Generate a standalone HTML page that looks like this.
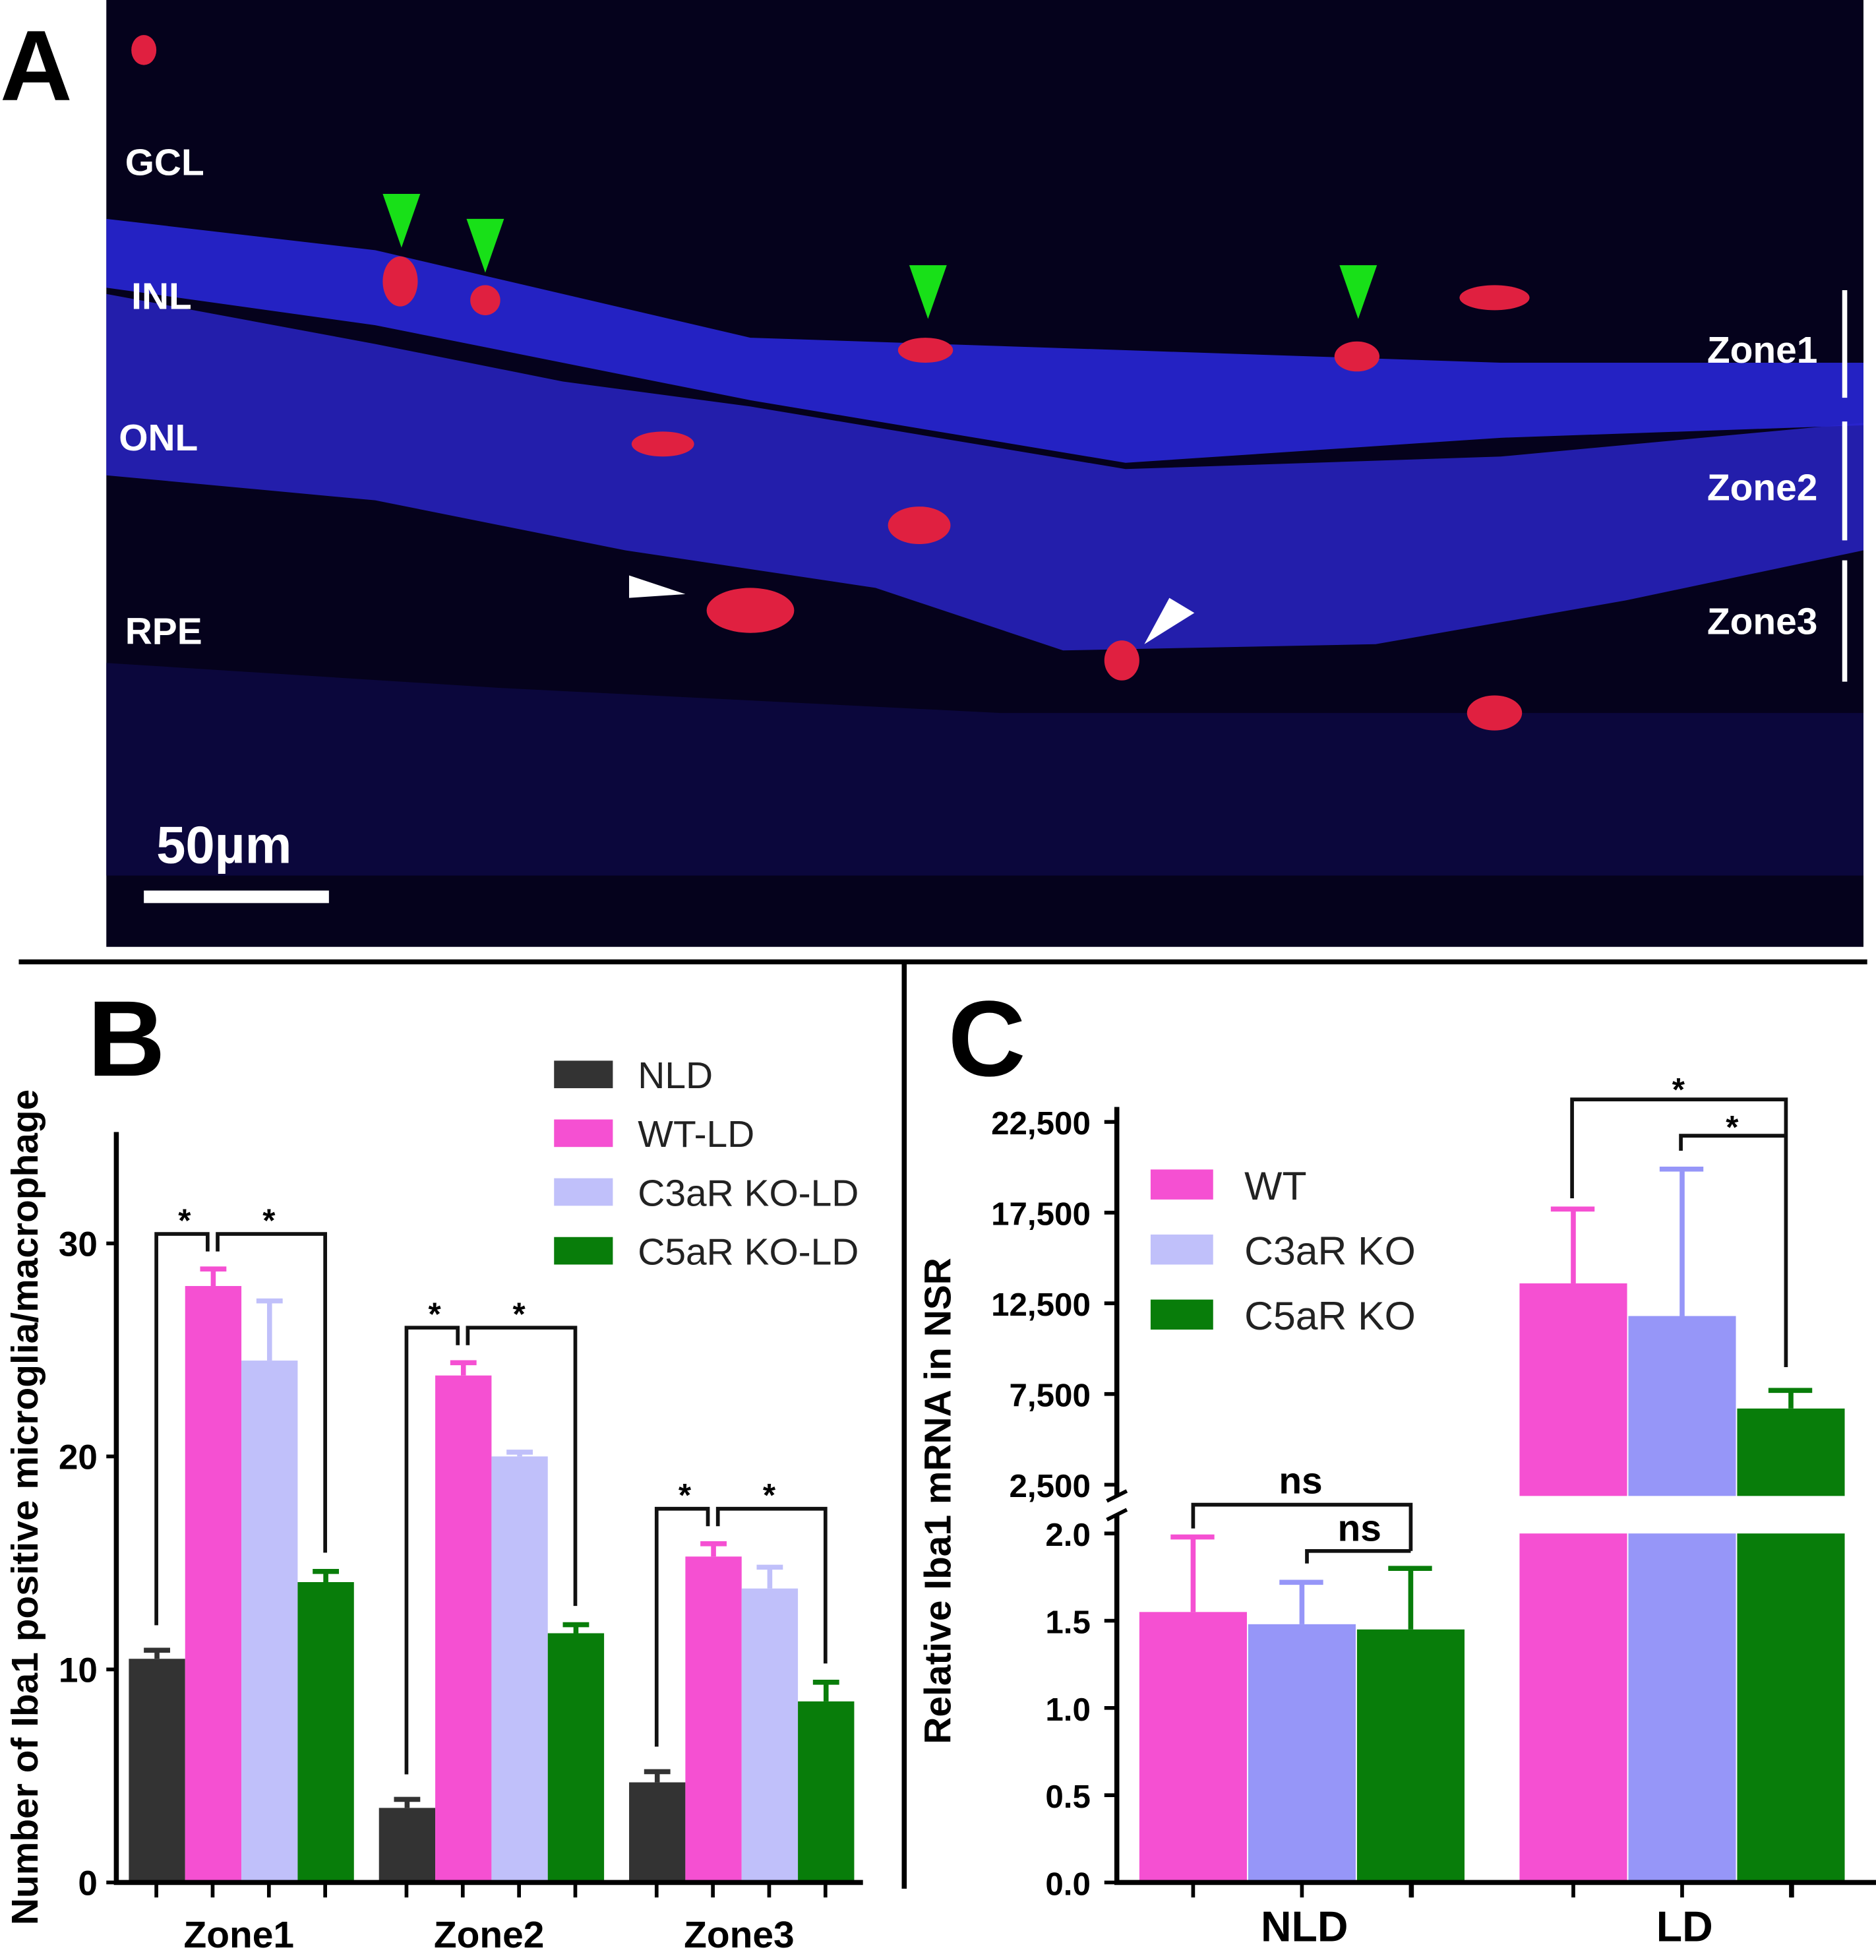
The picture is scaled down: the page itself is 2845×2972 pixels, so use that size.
<!DOCTYPE html>
<html><head><meta charset="utf-8"><style>
html,body{margin:0;padding:0;background:#fff}
svg{display:block}
text{font-family:"Liberation Sans",sans-serif}
</style></head><body>
<svg id="fig" width="2845" height="2972" viewBox="0 0 1500 1567" xmlns="http://www.w3.org/2000/svg">
<g>
<rect x="85" y="0" width="1405" height="757" fill="#05021c"/>
<polygon points="85,175 300,200 600,270 900,280 1200,290 1490,290 1490,340 1200,350 900,370 600,320 300,260 85,230" fill="#2a28e0" opacity="0.85"/>
<polygon points="85,235 300,275 450,305 600,325 900,375 1200,365 1490,338 1490,440 1300,480 1100,515 850,520 700,470 500,440 300,400 85,380" fill="#2a26d0" opacity="0.8"/>
<polygon points="85,530 400,550 800,570 1200,570 1490,570 1490,700 85,700" fill="#0c0840" opacity="0.9"/>
<text x="0" y="80" font-size="80" font-weight="bold" fill="#000">A</text>
<g fill="#fff" font-size="30" font-weight="bold">
<text x="100" y="140">GCL</text>
<text x="105" y="247">INL</text>
<text x="95" y="360">ONL</text>
<text x="100" y="515">RPE</text>
<text x="1365" y="290">Zone1</text>
<text x="1365" y="400">Zone2</text>
<text x="1365" y="507">Zone3</text>
<text x="125" y="690" font-size="42">50µm</text>
</g>
<rect x="115" y="712" width="148" height="10" fill="#fff"/>
<g stroke="#fff" stroke-width="4"><line x1="1475" y1="232" x2="1475" y2="318"/><line x1="1475" y1="337" x2="1475" y2="432"/><line x1="1475" y1="448" x2="1475" y2="545"/></g>
<g fill="#e02040">
<ellipse cx="320" cy="225" rx="14" ry="20"/><ellipse cx="388" cy="240" rx="12" ry="12"/><ellipse cx="740" cy="280" rx="22" ry="10"/><ellipse cx="1085" cy="285" rx="18" ry="12"/><ellipse cx="1195" cy="238" rx="28" ry="10"/><ellipse cx="600" cy="488" rx="35" ry="18"/><ellipse cx="897" cy="528" rx="14" ry="16"/><ellipse cx="1195" cy="570" rx="22" ry="14"/><ellipse cx="115" cy="40" rx="10" ry="12"/><ellipse cx="735" cy="420" rx="25" ry="15"/><ellipse cx="530" cy="355" rx="25" ry="10"/>
</g>
<g fill="#18e018">
<polygon points="306,155 336,155 321,198"/><polygon points="373,175 403,175 388,218"/><polygon points="727,212 757,212 742,255"/><polygon points="1071,212 1101,212 1086,255"/>
</g>
<g fill="#fff">
<polygon points="503,460 548,475 503,478"/><polygon points="955,490 915,515 935,478"/>
</g>
</g>
<line x1="15" y1="769" x2="1493" y2="769" stroke="#000" stroke-width="4"/>
<line x1="723" y1="770" x2="723" y2="1510" stroke="#000" stroke-width="4"/>
<text x="70" y="860" font-size="86" font-weight="bold">B</text>
<text x="758" y="860" font-size="86" font-weight="bold">C</text>
<g id="chartB"></g>
<g id="chartC"></g>
</svg>
<script>
const zones=["Zone1","Zone2","Zone3"];
const seriesB=["NLD","WT-LD","C3aR KO-LD","C5aR KO-LD"];
const nld=[10.5,3.5,4.7];
const wtld=[28.0,23.8,15.3];
const c3ld=[24.5,20.0,13.8];
const c5ld=[14.1,11.7,8.5];
const nldErr=[0.4,0.4,0.5];
const wtErr=[0.8,0.6,0.6];
const c3Err=[2.8,0.2,1.0];
const c5Err=[0.5,0.4,0.9];
const ticksB=[0,10,20,30];
const groupsC=["NLD","LD"];
const seriesC=["WT","C3aR KO","C5aR KO"];
const wtC=[1.55,13600];
const c3C=[1.48,11800];
const c5C=[1.45,6700];
const wtCErr=[0.43,4100];
const c3CErr=[0.24,8100];
const c5CErr=[0.35,1000];
const ticksCLow=[0.0,0.5,1.0,1.5,2.0];
const ticksCHigh=[2500,7500,12500,17500,22500];
const NS="http://www.w3.org/2000/svg";
function mk(parent,tag,attrs){const e=document.createElementNS(NS,tag);for(const k in attrs)e.setAttribute(k,attrs[k]);parent.appendChild(e);return e;}
// Chart B
const B=document.getElementById('chartB');
const yB=v=>1505-v*17.03;
const colsB=["#333333","#f550d2","#c0c0fa","#087d0a"];
const valsB=[nld,wtld,c3ld,c5ld], errsB=[nldErr,wtErr,c3Err,c5Err];
const gx=i=>103+i*200;
zones.forEach((z,i)=>{
  valsB.forEach((arr,s)=>{
    const x=gx(i)+s*45;
    const r=mk(B,'rect',{x:x,y:yB(arr[i]),width:45,height:yB(0)-yB(arr[i]),fill:colsB[s]});
    
    
    const t=yB(arr[i]+errsB[s][i]);
    const eg=mk(B,'path',{d:`M${x+22.5},${yB(arr[i])}V${t}M${x+12},${t}H${x+33}`,stroke:colsB[s],'stroke-width':4,fill:'none'});
    
    
  });
  const l=mk(B,'text',{x:gx(i)+88,y:1557,'font-size':30,'font-weight':'bold','text-anchor':'middle'});l.textContent=z;
  
  
  const xn=gx(i)+22,xw=gx(i)+67,xc=gx(i)+157;
  const top=yB(wtld[i]+wtErr[i])-28;
  const br=mk(B,'path',{d:`M${xn},${yB(nld[i]+nldErr[i])-20}V${top}H${xw-4}V${top+14}M${xw+4},${top+14}V${top}H${xc}V${yB(c5ld[i]+c5Err[i])-15}`,stroke:'#111','stroke-width':3,fill:'none'});
  
  
  [(xn+xw)/2,(xw+xc)/2].forEach(sx=>{const st=mk(B,'text',{x:sx,y:top-2,'font-size':26,'font-weight':'bold','text-anchor':'middle'});st.textContent='*';
  
  });
  [0,1,2,3].forEach(k=>mk(B,'line',{x1:gx(i)+22+k*45,x2:gx(i)+22+k*45,y1:1505,y2:1517,stroke:'#000','stroke-width':3}));
});
mk(B,'path',{d:'M93,905V1505H690',stroke:'#000','stroke-width':4,fill:'none'});
ticksB.forEach(t=>{mk(B,'line',{x1:85,x2:93,y1:yB(t),y2:yB(t),stroke:'#000','stroke-width':3});
  const tl=mk(B,'text',{x:78,y:yB(t)+10,'font-size':28,'font-weight':'bold','text-anchor':'end'});tl.textContent=t;
  
  });
const yt=mk(B,'text',{x:0,y:0,'font-size':30,'font-weight':'bold','text-anchor':'middle',transform:'translate(30,1205) rotate(-90)'});yt.textContent='Number of Iba1 positive microglia/macrophage';


seriesB.forEach((s,k)=>{const y=860+k*47;
  const sw=mk(B,'rect',{x:443,y:y-12,width:47,height:22,fill:colsB[k]});
  
  
  const t=mk(B,'text',{x:510,y:y+10,'font-size':30,fill:'#222'});t.textContent=s;
  
  });
// Chart C
const C=document.getElementById('chartC');
const yLow=v=>1505-v*139.5;
const yHigh=v=>1187-(v-2500)*72.5/5000;
const yC=v=>v<=2?yLow(v):yHigh(v);
const colsC=["#f550d2","#9696f8","#087d0a"];
const valsC=[wtC,c3C,c5C], errsC=[wtCErr,c3CErr,c5CErr];
const cx=g=>911+g*304;
groupsC.forEach((g,gi)=>{
  valsC.forEach((arr,s)=>{
    const x=cx(gi)+s*87,v=arr[gi];
    if(v<=2){const r=mk(C,'rect',{x:x,y:yLow(v),width:86,height:1505-yLow(v),fill:colsC[s]});
      
      }
    else{const r=mk(C,'rect',{x:x,y:yLow(2),width:86,height:1505-yLow(2),fill:colsC[s]});
      
      
      const r2=mk(C,'rect',{x:x,y:yHigh(v),width:86,height:1196-yHigh(v),fill:colsC[s]});
      
      }
    const t=yC(v+errsC[s][gi]);
    const e=mk(C,'path',{d:`M${x+43},${yC(v)}V${t}M${x+25},${t}H${x+60}`,stroke:colsC[s],'stroke-width':4,fill:'none'});
    
    
  });
  [0,1,2,3].forEach(k=>{const xx=Math.min(cx(gi)+43+k*87,cx(gi)+218);mk(C,'line',{x1:xx,x2:xx,y1:1505,y2:1517,stroke:'#000','stroke-width':3});});
  const l=mk(C,'text',{x:cx(gi)+132,y:1552,'font-size':34,'font-weight':'bold','text-anchor':'middle'});l.textContent=g;
  
  
});
const b1=mk(C,'path',{d:`M954,1222V1203H1128V1240M1045,1250V1240H1128`,stroke:'#111','stroke-width':3,fill:'none'});


const b2=mk(C,'path',{d:`M1257,958V879H1428V1093M1344,920V908H1428`,stroke:'#111','stroke-width':3,fill:'none'});


[[1040,1194,'ns'],[1087,1232,'ns'],[1342,880,'*'],[1385,910,'*']].forEach(a=>{const t=mk(C,'text',{x:a[0],y:a[1],'font-size':a[2]=='ns'?30:26,'font-weight':'bold','text-anchor':'middle'});t.textContent=a[2];
  
  });
mk(C,'path',{d:'M893,1211V1505H1500M893,885V1196',stroke:'#000','stroke-width':4,fill:'none'});
mk(C,'path',{d:'M885,1200L901,1192M885,1215L901,1207',stroke:'#000','stroke-width':3,fill:'none'});
ticksCLow.forEach(t=>{mk(C,'line',{x1:883,x2:893,y1:yLow(t),y2:yLow(t),stroke:'#000','stroke-width':3});
  const tl=mk(C,'text',{x:872,y:yLow(t)+10,'font-size':26,'font-weight':'bold','text-anchor':'end'});tl.textContent=t.toFixed(1);
  
  });
ticksCHigh.forEach(t=>{mk(C,'line',{x1:883,x2:893,y1:yHigh(t),y2:yHigh(t),stroke:'#000','stroke-width':3});
  const tl=mk(C,'text',{x:872,y:yHigh(t)+10,'font-size':26,'font-weight':'bold','text-anchor':'end'});tl.textContent=t.toLocaleString('en-US');
  
  });
const ytc=mk(C,'text',{x:0,y:0,'font-size':30,'font-weight':'bold','text-anchor':'middle',transform:'translate(760,1200) rotate(-90)'});ytc.textContent='Relative Iba1 mRNA in NSR';


seriesC.forEach((s,k)=>{const y=947+k*52;
  const sw=mk(C,'rect',{x:920,y:y-12,width:50,height:24,fill:['#f550d2','#c0c0fa','#087d0a'][k]});
  
  
  const t=mk(C,'text',{x:995,y:y+12,'font-size':32,fill:'#222'});t.textContent=s;
  
  });
</script>
</body></html>
